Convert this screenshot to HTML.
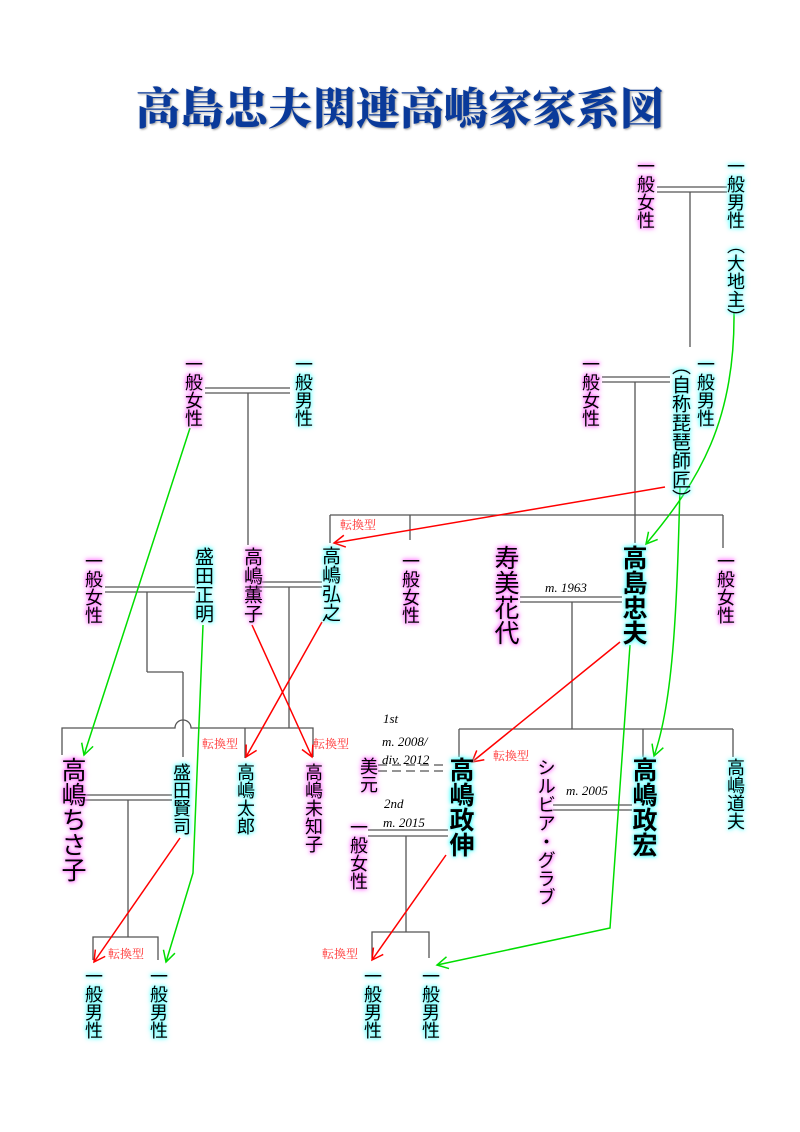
<!DOCTYPE html>
<html><head><meta charset="utf-8"><style>
body{margin:0;background:#fff;}
#w{position:relative;width:800px;height:1132px;overflow:hidden;font-family:"Liberation Sans","Noto Sans CJK JP",sans-serif;}
.v{position:absolute;writing-mode:vertical-rl;line-height:1;color:#000;white-space:nowrap;}
.p{text-shadow:0 0 3px #f6f,0 0 5px #f6f,0 0 7px #f9f;}
.c{text-shadow:0 0 3px #5ff,0 0 5px #5ff,0 0 7px #9ff;}
.b{font-weight:bold;}
.t{position:absolute;font-family:"Liberation Serif",serif;font-style:italic;font-size:13px;color:#000;}
.r{position:absolute;font-family:"Liberation Serif","Noto Serif CJK SC",serif;font-size:12px;color:#f33;}
#title{position:absolute;left:0;width:800px;top:73px;text-align:center;font-family:"Noto Serif CJK SC",serif;font-weight:900;font-size:44px;color:#0a3a9a;text-shadow:1px 1px 2px #999;}
</style></head><body><div id="w">
<svg width="800" height="1132" style="position:absolute;left:0;top:0">
<defs>
<marker id="ar" markerWidth="14" markerHeight="14" refX="12" refY="7" orient="auto" markerUnits="userSpaceOnUse"><polyline points="1,1 12,7 1,13" fill="none" stroke="#f00" stroke-width="1.5"/></marker>
<marker id="ag" markerWidth="14" markerHeight="14" refX="12" refY="7" orient="auto" markerUnits="userSpaceOnUse"><polyline points="1,1 12,7 1,13" fill="none" stroke="#0d0" stroke-width="1.5"/></marker>
</defs>
<g stroke="#555" stroke-width="1.3" fill="none">
<line x1="657" y1="187" x2="727" y2="187"/><line x1="657" y1="192" x2="727" y2="192"/>
<line x1="690" y1="192" x2="690" y2="347"/>
<line x1="602" y1="377" x2="670" y2="377"/><line x1="602" y1="382" x2="670" y2="382"/>
<line x1="635" y1="382" x2="635" y2="543"/>
<line x1="330" y1="515" x2="723" y2="515"/>
<line x1="330" y1="515" x2="330" y2="543"/><line x1="410" y1="515" x2="410" y2="540"/><line x1="723" y1="515" x2="723" y2="548"/>
<line x1="205" y1="388" x2="290" y2="388"/><line x1="205" y1="393" x2="290" y2="393"/>
<line x1="248" y1="393" x2="248" y2="545"/>
<line x1="105" y1="587" x2="195" y2="587"/><line x1="105" y1="592" x2="195" y2="592"/>
<line x1="147" y1="592" x2="147" y2="672"/><line x1="147" y1="672" x2="183" y2="672"/><line x1="183" y1="672" x2="183" y2="757"/>
<path d="M62 755 V728 H175 A8 8 0 0 1 191 728 H313 V757"/>
<line x1="245" y1="728" x2="245" y2="758"/>
<line x1="262" y1="582" x2="322" y2="582"/><line x1="262" y1="587" x2="322" y2="587"/>
<line x1="289" y1="587" x2="289" y2="728"/>
<line x1="520" y1="597" x2="622" y2="597"/><line x1="520" y1="602" x2="622" y2="602"/>
<line x1="572" y1="602" x2="572" y2="729"/>
<line x1="459" y1="729" x2="733" y2="729"/>
<line x1="459" y1="729" x2="459" y2="757"/><line x1="643" y1="729" x2="643" y2="757"/><line x1="733" y1="729" x2="733" y2="757"/>
<line x1="378" y1="765" x2="448" y2="765" stroke-dasharray="9,5"/><line x1="378" y1="771" x2="448" y2="771" stroke-dasharray="9,5"/>
<line x1="368" y1="830" x2="448" y2="830"/><line x1="368" y1="836" x2="448" y2="836"/>
<line x1="406" y1="836" x2="406" y2="932"/>
<path d="M372 958 V932 H429 V958"/>
<line x1="553" y1="805" x2="632" y2="805"/><line x1="553" y1="810" x2="632" y2="810"/>
<line x1="84" y1="795" x2="172" y2="795"/><line x1="84" y1="800" x2="172" y2="800"/>
<line x1="128" y1="800" x2="128" y2="937"/>
<path d="M93 960 V937 H158 V960"/>
</g>
<g stroke="#f00" stroke-width="1.5" fill="none">
<line x1="665" y1="487" x2="334" y2="543" marker-end="url(#ar)"/>
<line x1="252" y1="625" x2="312" y2="757" marker-end="url(#ar)"/>
<line x1="322" y1="622" x2="246" y2="757" marker-end="url(#ar)"/>
<line x1="620" y1="642" x2="472" y2="762" marker-end="url(#ar)"/>
<line x1="180" y1="838" x2="94" y2="962" marker-end="url(#ar)"/>
<line x1="446" y1="855" x2="372" y2="960" marker-end="url(#ar)"/>
</g>
<g stroke="#0d0" stroke-width="1.5" fill="none">
<path d="M734 313 C735 420, 700 480, 646 544" marker-end="url(#ag)"/>
<path d="M680 487 C677 600, 674 700, 654 756" marker-end="url(#ag)"/>
<line x1="190" y1="428" x2="84" y2="755" marker-end="url(#ag)"/>
<path d="M203 625 L193 873 L166 962" marker-end="url(#ag)"/>
<path d="M630 645 L610 928 L437 965" marker-end="url(#ag)"/>
</g>
</svg>
<div id="title">高島忠夫関連高嶋家家系図</div>

<div class="v p" style="left:636px;top:157px;font-size:18px">一般女性</div>
<div class="v c" style="left:726px;top:157px;font-size:18px">一般男性</div>
<div class="v c" style="left:726px;top:236px;font-size:18px">（大地主）</div>
<div class="v p" style="left:581px;top:355px;font-size:18px">一般女性</div>
<div class="v c" style="left:696px;top:355px;font-size:18px">一般男性</div>
<div class="v c" style="left:670px;top:356px;font-size:19px">（自称琵琶師匠）</div>
<div class="v p" style="left:184px;top:355px;font-size:18px">一般女性</div>
<div class="v c" style="left:294px;top:355px;font-size:18px">一般男性</div>

<div class="v p" style="left:84px;top:552px;font-size:18px">一般女性</div>
<div class="v c" style="left:193px;top:547px;font-size:19px">盛田正明</div>
<div class="v p" style="left:242px;top:547px;font-size:19px">高嶋薫子</div>
<div class="v c" style="left:320px;top:546px;font-size:19px">高嶋弘之</div>
<div class="v p" style="left:401px;top:552px;font-size:18px">一般女性</div>
<div class="v p" style="left:492px;top:545px;font-size:25px">寿美花代</div>
<div class="v c b" style="left:620px;top:545px;font-size:25px">高島忠夫</div>
<div class="v p" style="left:716px;top:552px;font-size:18px">一般女性</div>

<div class="v p" style="left:59px;top:757px;font-size:25px">高嶋ちさ子</div>
<div class="v c" style="left:172px;top:763px;font-size:18px">盛田賢司</div>
<div class="v c" style="left:236px;top:763px;font-size:18px">高嶋太郎</div>
<div class="v p" style="left:304px;top:763px;font-size:18px">高嶋未知子</div>
<div class="v p" style="left:359px;top:757px;font-size:18px">美元</div>
<div class="v p" style="left:349px;top:818px;font-size:18px">一般女性</div>
<div class="v c b" style="left:447px;top:757px;font-size:25px">高嶋政伸</div>
<div class="v p" style="left:536px;top:758px;font-size:18.5px">シルビア・グラブ</div>
<div class="v c b" style="left:630px;top:757px;font-size:25px">高嶋政宏</div>
<div class="v c" style="left:726px;top:758px;font-size:18px">高嶋道夫</div>

<div class="v c" style="left:84px;top:967px;font-size:18px">一般男性</div>
<div class="v c" style="left:149px;top:967px;font-size:18px">一般男性</div>
<div class="v c" style="left:363px;top:967px;font-size:18px">一般男性</div>
<div class="v c" style="left:421px;top:967px;font-size:18px">一般男性</div>

<div class="t" style="left:545px;top:580px">m. 1963</div>
<div class="t" style="left:383px;top:711px">1st</div>
<div class="t" style="left:382px;top:734px">m. 2008/</div>
<div class="t" style="left:382px;top:752px">div. 2012</div>
<div class="t" style="left:384px;top:796px">2nd</div>
<div class="t" style="left:383px;top:815px">m. 2015</div>
<div class="t" style="left:566px;top:783px">m. 2005</div>

<div class="r" style="left:340px;top:516px">転換型</div>
<div class="r" style="left:202px;top:735px">転換型</div>
<div class="r" style="left:313px;top:735px">転換型</div>
<div class="r" style="left:493px;top:747px">転換型</div>
<div class="r" style="left:108px;top:945px">転換型</div>
<div class="r" style="left:322px;top:945px">転換型</div>
</div></body></html>
